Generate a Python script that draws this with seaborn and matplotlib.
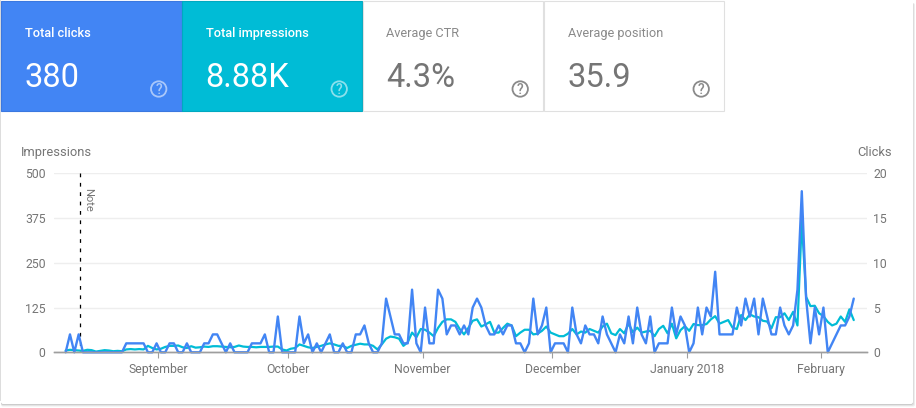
#!/usr/bin/env python3
"""Search performance card: clicks and impressions per day."""

import matplotlib.pyplot as plt
import pandas as pd
import seaborn as sns
from matplotlib.patches import Circle, FancyBboxPatch, Rectangle

START_DATE = "2017-08-11"

clicks = [
    0, 2, 0, 2, 0, 0, 0, 0, 0, 0, 0, 0, 0, 0,
    1, 1, 1, 1, 1, 0, 0, 1, 0, 0, 1, 1, 0, 0, 1, 0, 0, 0, 1, 1, 2, 2, 1, 0, 1,
    0, 0, 0, 0, 1, 1, 1, 2, 0, 0, 4, 0, 0, 0, 0, 4, 1, 2, 0, 1,
    0, 1, 2, 0, 0, 1, 0, 0, 2, 2, 3, 1, 0, 0, 1,
    6, 4, 2, 2, 1, 1, 7, 1, 0, 5, 1, 1, 7, 6, 2, 3, 3, 2, 3, 2,
    5, 6, 5, 3, 2, 2, 3, 2, 3, 3, 1, 1, 0, 1, 6, 2, 3, 5,
    0, 1, 1, 1, 0, 5, 2, 1, 3, 2, 2, 1,
    4, 2, 1, 0, 2, 1, 4, 1, 5, 2, 1, 4, 0, 1, 1, 1, 5, 2, 4, 3, 0, 1, 5, 2, 5, 4,
    9, 2, 2, 2, 2, 5, 3, 6, 4, 6, 2, 6, 4, 2, 2, 5, 3, 2, 3, 7, 18, 6, 1, 5, 2, 5,
    0, 1, 2, 3, 3, 4, 6,
]

impressions = [
    5, 7, 6, 5, 4, 7, 6, 2, 4, 6, 5, 3, 4, 3,
    8, 9, 8, 9, 8, 18, 12, 8, 10, 15, 18, 18, 19, 14, 12, 17, 13, 14, 16, 15, 17, 17, 16, 15, 14,
    15, 19, 16, 15, 15, 14, 15, 15, 15, 16, 16, 8, 5, 10, 12, 22, 18, 14, 12, 15,
    18, 22, 25, 22, 18, 18, 12, 18, 21, 24, 22, 22, 18, 8, 22,
    38, 44, 42, 38, 18, 28, 55, 42, 65, 63, 55, 45, 68, 85, 92, 92, 85, 65, 50, 68,
    88, 92, 72, 78, 85, 55, 55, 68, 80, 75, 45, 55, 63, 63, 50, 52, 60, 72,
    55, 50, 45, 45, 52, 65, 50, 58, 55, 65, 60, 55,
    72, 80, 53, 48, 65, 53, 80, 56, 69, 55, 58, 60, 45, 65, 74, 53, 80, 39, 62, 73, 60, 79, 76, 76, 79, 92,
    101, 80, 85, 90, 69, 65, 104, 90, 106, 100, 98, 88, 86, 67, 98, 98, 109, 90, 113, 75, 368, 155, 129, 130, 109, 101,
    85, 75, 80, 100, 85, 120, 90,
]

month_ticks = ["2017-09-01", "2017-10-01", "2017-11-01", "2017-12-01", "2018-01-01", "2018-02-01"]
month_labels = ["September", "October", "November", "December", "January 2018", "February"]
impression_ticks = [0, 125, 250, 375, 500]
click_ticks = [0, 5, 10, 15, 20]

tile_titles = ["Total clicks", "Total impressions", "Average CTR", "Average position"]
tile_values = ["380", "8.88K", "4.3%", "35.9"]

BLUE = "#4285f4"
TEAL = "#00bcd6"
GREY = "#757575"

W, H = 916, 408


def draw_card(bg):
    """Page card with its shadow, then the four metric tiles."""
    for grow, col in [(2.5, "#eeeeee"), (1.5, "#dcdcdc"), (0.5, "#bdbdbd")]:
        bg.add_patch(FancyBboxPatch((1, 3), 912 + grow - 0.5, 401 + grow, boxstyle="round,pad=0,rounding_size=2",
                                    fc=col, ec="none"))
    bg.add_patch(Rectangle((0, 0), 1, 401, fc="#dddddd", ec="none"))
    bg.add_patch(FancyBboxPatch((1, 1), 912, 403, boxstyle="round,pad=0,rounding_size=2", fc="white", ec="none"))

    lefts = [1, 181.5, 362.5, 543.5]
    fills = [BLUE, "#00bcd6", "white", "white"]
    for i, left in enumerate(lefts):
        coloured = i < 2
        bg.add_patch(Rectangle((left, 1), 180.5, 110, fc=fills[i],
                               ec="#3b78e0" if i == 0 else "#00a9c0" if i == 1 else "#e0e0e0", lw=0.8))
        txt = "white" if coloured else GREY
        bg.text(left + 24, 37, tile_titles[i], color=txt if coloured else "#8a8a8a", fontsize=9.2,
                fontweight="medium" if coloured else "normal", va="baseline")
        bg.text(left + 24, 87, tile_values[i], color=txt, fontsize=23.5, va="baseline")
        # help icon
        cx = left + 157.7
        icon = "white" if coloured else "#8a8a8a"
        alpha = 0.55 if coloured else 1
        bg.add_patch(Circle((cx, 89), 7.7, fc="none", ec=icon, lw=1.3, alpha=alpha))
        bg.text(cx, 89, "?", color=icon, alpha=alpha, fontsize=10, fontweight="medium",
                ha="center", va="center_baseline")


def main():
    sns.set_theme(style="white")
    plt.rcParams["font.family"] = ["Roboto", "DejaVu Sans"]

    dates = pd.date_range(START_DATE, periods=len(clicks))
    df = pd.DataFrame({"date": dates, "clicks": clicks, "impressions": impressions})

    fig = plt.figure(figsize=(W / 100, H / 100), dpi=100, facecolor="white")
    bg = fig.add_axes([0, 0, 1, 1])
    bg.set_xlim(0, W)
    bg.set_ylim(H, 0)
    bg.axis("off")
    draw_card(bg)

    # plot area in pixels: x 54..867, y 173..352
    ax = fig.add_axes([54 / W, 1 - 352.3 / H, 813 / W, 179 / H])
    ax.patch.set_alpha(0)
    ax2 = ax.twinx()
    ax2.patch.set_alpha(0)

    sns.lineplot(data=df, x="date", y="impressions", ax=ax, color=TEAL, linewidth=1.6, clip_on=False)
    sns.lineplot(data=df, x="date", y="clicks", ax=ax2, color=BLUE, linewidth=1.7, clip_on=False)

    day = pd.Timedelta(days=1)
    ax.set_xlim(dates[0] - 2.69 * day, dates[0] + 185.06 * day)
    ax.set_ylim(0, 500)
    ax2.set_ylim(0, 20)

    # month ticks sit a bit after midnight on the first of the month
    ax.set_xticks(pd.to_datetime(month_ticks) + pd.Timedelta(hours=10))
    ax.set_xticklabels(month_labels)
    ax.set_yticks(impression_ticks)
    ax2.set_yticks(click_ticks)
    ax.set_xlabel("")
    ax.set_ylabel("")
    ax2.set_ylabel("")

    ax.grid(axis="y", color="#eeeeee", linewidth=1)
    ax.set_axisbelow(True)
    ax.tick_params(axis="x", length=4, width=0.8, color="#9e9e9e", labelcolor=GREY, labelsize=8.8, pad=4, bottom=True)
    ax.tick_params(axis="y", length=0, labelcolor=GREY, labelsize=8.8, pad=6)
    ax2.tick_params(axis="y", length=0, labelcolor=GREY, labelsize=8.8, pad=4.5)
    for a in (ax, ax2):
        for name, spine in a.spines.items():
            spine.set_visible(name == "bottom")
        a.spines["bottom"].set_color("#9e9e9e")
        a.spines["bottom"].set_linewidth(1)

    # annotation marker, dashes counted from the top
    note_day = dates[3] + pd.Timedelta(hours=10)
    ax.axvline(note_day, ymin=1, ymax=0, color="black", linewidth=0.9, dashes=(3, 4.5), zorder=1)
    bg.text(88.5, 200, "Note", color=GREY, fontsize=8, rotation=270, ha="center", va="center")

    bg.text(21, 156, "Impressions", color=GREY, fontsize=9.3, va="baseline")
    bg.text(892, 156, "Clicks", color=GREY, fontsize=9.3, va="baseline", ha="right")

    fig.savefig("out.png", dpi=100, facecolor="white")
    plt.close(fig)


if __name__ == "__main__":
    main()
